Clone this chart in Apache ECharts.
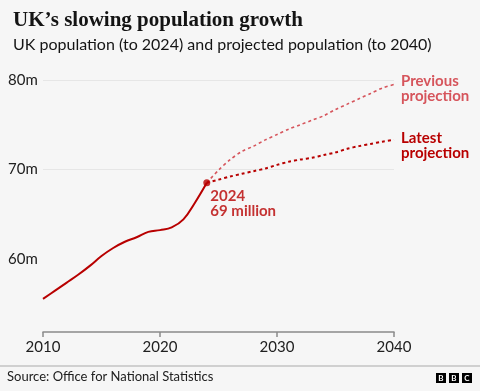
<!DOCTYPE html>
<html><head><meta charset="utf-8">
<script src="https://cdn.jsdelivr.net/npm/echarts@6/dist/echarts.min.js"></script>
<style>html,body{margin:0;padding:0;background:#f6f6f6}#c{width:480px;height:391px}</style>
</head><body><div id="c"></div>
<script>
const histYears = [2010,2011,2012,2013,2014,2015,2016,2017,2018,2019,2020,2021,2022,2023,2024];
const histValues = [55.5,56.4,57.3,58.2,59.2,60.3,61.2,61.9,62.4,63.0,63.2,63.5,64.4,66.3,68.5];
const projYears = [2024,2025,2026,2027,2028,2029,2030,2031,2032,2033,2034,2035,2036,2037,2038,2039,2040];
const latestValues = [68.5,68.85,69.2,69.5,69.8,70.1,70.5,70.85,71.1,71.3,71.6,71.9,72.3,72.6,72.85,73.1,73.3];
const previousValues = [68.5,69.9,71.1,72.0,72.6,73.3,73.9,74.5,75.0,75.5,76.0,76.7,77.3,77.9,78.5,79.1,79.5];
const xTicks = [2010,2020,2030,2040];
const yLabels = [60,70,80];
const yGridLines = [70,80];
const annoPoint = [2024, 68.5];
const annoText = '2024\n69 million';

const RED = '#b80000', PINK = '#d6555c';
const FONT = 'Lato, "Noto Sans", sans-serif';
const zip = (a,b)=>a.map((v,i)=>[v,b[i]]);

const chart = echarts.init(document.getElementById('c'), null, {renderer:'canvas'});
chart.setOption({
  animation:false,
  backgroundColor:'#f6f6f6',
  title:{
    left:8, top:5, itemGap:6,
    text:'UK\u2019s slowing population growth',
    textStyle:{fontFamily:'"Liberation Serif", serif', fontWeight:'bold', fontSize:21, color:'#141414'},
    subtext:'UK population (to 2024) and projected population (to 2040)',
    subtextStyle:{fontFamily:FONT, fontSize:16, color:'#141414'}
  },
  grid:{left:43, right:86, top:80, bottom:59},
  xAxis:{
    type:'value', min:2010, max:2040, interval:10,
    axisLine:{show:true, lineStyle:{color:'#8a8a8a', width:1.5}},
    axisTick:{show:true, length:5, lineStyle:{color:'#8a8a8a', width:1.5}},
    axisLabel:{fontFamily:FONT, fontSize:15, color:'#202020', margin:8, formatter:v=>String(v)},
    splitLine:{show:false}
  },
  yAxis:{
    type:'value', min:51.8, max:80,
    axisLine:{show:false},
    axisTick:{show:false, customValues:yGridLines},
    axisLabel:{customValues:yLabels, fontFamily:FONT, fontSize:15, color:'#202020', align:'left', margin:35, formatter:v=>v+'m'},
    splitLine:{show:true, lineStyle:{color:'#e6e6e6', width:1}}
  },
  series:[
    {type:'line', data:zip(projYears, previousValues), showSymbol:false, smooth:0.3,
     lineStyle:{color:PINK, width:1.6, type:[3,3]},
     endLabel:{show:true, formatter:'Previous\nprojection', fontFamily:FONT, fontSize:15, fontWeight:'bold', color:PINK, lineHeight:15, distance:7, offset:[0,4]}},
    {type:'line', data:zip(projYears, latestValues), showSymbol:false, smooth:0.3,
     lineStyle:{color:RED, width:2, type:[3,3]},
     endLabel:{show:true, formatter:'Latest\nprojection', fontFamily:FONT, fontSize:15, fontWeight:'bold', color:RED, lineHeight:15, distance:7, offset:[0,6]}},
    {type:'line', data:zip(histYears, histValues), showSymbol:false, smooth:0.4,
     lineStyle:{color:RED, width:2}},
    {type:'scatter', data:[annoPoint], symbolSize:7, itemStyle:{color:RED}, z:5,
     label:{show:true, position:'right', distance:0, offset:[0,21], align:'left', formatter:annoText,
            fontFamily:FONT, fontSize:15, fontWeight:'bold', color:RED, lineHeight:15}}
  ],
  graphic:[
    {type:'line', shape:{x1:0,y1:366,x2:480,y2:366}, style:{stroke:'#aaaaaa', lineWidth:1}},
    {type:'text', left:7, top:370, style:{text:'Source: Office for National Statistics', font:'13px '+FONT, fill:'#202020'}},
    {type:'group', left:436, top:373, children:[
      {type:'rect', shape:{x:0,y:0,width:10,height:10}, style:{fill:'#000'}},
      {type:'rect', shape:{x:13,y:0,width:10,height:10}, style:{fill:'#000'}},
      {type:'rect', shape:{x:26,y:0,width:10,height:10}, style:{fill:'#000'}},
      {type:'text', x:5, y:5, style:{text:'B', font:'bold 8px '+FONT, fill:'#fff', align:'center', verticalAlign:'middle'}},
      {type:'text', x:18, y:5, style:{text:'B', font:'bold 8px '+FONT, fill:'#fff', align:'center', verticalAlign:'middle'}},
      {type:'text', x:31, y:5, style:{text:'C', font:'bold 8px '+FONT, fill:'#fff', align:'center', verticalAlign:'middle'}}
    ]}
  ]
});
</script></body></html>
